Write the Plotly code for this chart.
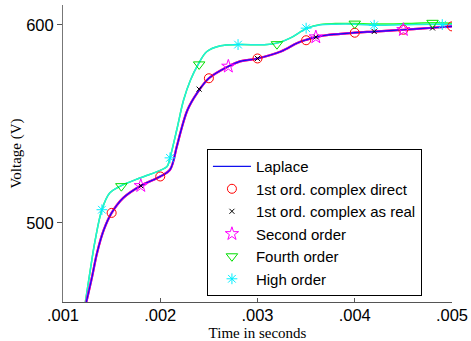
import plotly.graph_objects as go

# ---- data ----
lap_t = [0.00124, 0.0013, 0.00135, 0.00142, 0.0015, 0.00162, 0.0018, 0.002, 0.0021,
         0.00217, 0.00221, 0.00228, 0.00238, 0.0025, 0.0027, 0.00282, 0.003, 0.00324,
         0.00341, 0.0035, 0.0036, 0.00375, 0.0040, 0.0042, 0.0045, 0.0048, 0.005]
lap_v = [460, 473, 484.8, 496.5, 505, 512.6, 518.7, 523.4, 526.8,
         538.5, 546, 557, 565.6, 573, 579, 581.5, 583, 586.5,
         590.8, 592.4, 593.8, 595, 596, 596.6, 597.5, 598.5, 599.2]

hi_t = [0.00123, 0.00128, 0.00133, 0.0014, 0.00148, 0.00159, 0.00179, 0.002, 0.00207,
        0.0021, 0.00217, 0.00224, 0.00231, 0.00239, 0.00248, 0.00262, 0.0028, 0.0031,
        0.00322, 0.00334, 0.00351, 0.00365, 0.0038, 0.004, 0.0042, 0.0045, 0.0048, 0.005]
hi_v = [460, 476, 491, 506.6, 515, 518.5, 522.6, 526.5, 528.4,
        532.8, 547, 562, 572, 580, 586.5, 589.4, 590, 590,
        591, 593.4, 598.3, 600, 600.3, 600.3, 599.8, 600, 600.3, 600.2]

fourth_t = hi_t
fourth_v = [460, 476, 491, 506.6, 515, 518.5, 522.6, 526.5, 528.4,
            532.8, 547, 562, 572, 580, 586.5, 589.4, 590, 590,
            591, 593.4, 598.3, 600.2, 600.6, 600.6, 600.4, 600.6, 601, 600.8]

c1_t = [0.0015, 0.002, 0.0025, 0.003, 0.0035, 0.004, 0.0045, 0.005]
c1_v = [505, 523.4, 573, 583, 592.2, 596, 597.5, 599.2]

x1_t = [0.0018, 0.0024, 0.003, 0.0036, 0.0042, 0.0048]
x1_v = [518.7, 567.5, 583, 593.8, 596.6, 598.4]

so_t = [0.0018, 0.0027, 0.0036, 0.0045]
so_v = [518.7, 579, 593.8, 597.5]

fo_t = [0.0016, 0.0024, 0.0032, 0.004, 0.0048]
fo_v = [518.5, 580, 590.2, 600.6, 601]

ho_t = [0.0014, 0.0021, 0.0028, 0.0035, 0.0042, 0.0049]
ho_v = [506.6, 532.8, 590, 598.3, 599.8, 600.1]

xtick_vals = [0.001, 0.002, 0.003, 0.004, 0.005]
xtick_text = [".001", ".002", ".003", ".004", ".005"]
ytick_vals = [500, 600]
ytick_text = ["500", "600"]

fig = go.Figure()

# background lines (no legend)
fig.add_trace(go.Scatter(x=fourth_t, y=fourth_v, mode="lines", line=dict(color="#22ff22", width=1.5, shape="spline"),
                         showlegend=False, hoverinfo="skip"))
fig.add_trace(go.Scatter(x=hi_t, y=hi_v, mode="lines", line=dict(color="#22eedd", width=1.5, shape="spline"),
                         showlegend=False, hoverinfo="skip"))
fig.add_trace(go.Scatter(x=lap_t, y=lap_v, mode="lines", line=dict(color="#ff2020", width=2.2, shape="spline"),
                         showlegend=False, hoverinfo="skip"))
fig.add_trace(go.Scatter(x=lap_t, y=lap_v, mode="lines", line=dict(color="#ee00ee", width=2.2, shape="spline"),
                         showlegend=False, hoverinfo="skip"))

# legend traces
fig.add_trace(go.Scatter(x=lap_t, y=lap_v, mode="lines", name="Laplace",
                         line=dict(color="#1010ee", width=1.2, shape="spline")))
fig.add_trace(go.Scatter(x=c1_t, y=c1_v, mode="markers", name="1st ord. complex direct",
                         marker=dict(symbol="circle-open", color="#ff0000", size=9, line=dict(width=1))))
fig.add_trace(go.Scatter(x=x1_t, y=x1_v, mode="markers", name="1st ord. complex as real",
                         marker=dict(symbol="x-thin-open", color="#000000", size=5, line=dict(width=1))))
fig.add_trace(go.Scatter(x=so_t, y=so_v, mode="markers", name="Second order",
                         marker=dict(symbol="star-open", color="#ff00ff", size=10, line=dict(width=1))))
fig.add_trace(go.Scatter(x=fo_t, y=fo_v, mode="markers", name="Fourth order",
                         marker=dict(symbol="triangle-down-open", color="#00dd00", size=10, line=dict(width=1))))
fig.add_trace(go.Scatter(x=ho_t, y=ho_v, mode="markers", name="High order",
                         marker=dict(symbol="asterisk-open", color="#00eeff", size=9, line=dict(width=1))))

fig.update_layout(
    width=471, height=341,
    margin=dict(l=63, r=19, t=5, b=39),
    paper_bgcolor="white", plot_bgcolor="white",
    font=dict(family="Liberation Sans, Arial", size=16.5, color="black"),
    legend=dict(x=0.37, y=0.515, xanchor="left", yanchor="top",
                bgcolor="white", bordercolor="black", borderwidth=1,
                font=dict(family="Liberation Sans, Arial", size=15),
                tracegroupgap=0, itemwidth=38,
                entrywidth=185, entrywidthmode="pixels"),
    xaxis=dict(range=[0.001, 0.005], tickvals=xtick_vals, ticktext=xtick_text, automargin=False,
               showgrid=False, zeroline=False, showline=True, linecolor="#555555", linewidth=1,
               ticks="inside", ticklen=4, tickcolor="#555555", ticklabelstandoff=-2,
               title=dict(text="Time in seconds", font=dict(family="Liberation Serif, Times New Roman", size=15),
                          standoff=14)),
    yaxis=dict(range=[460, 610], tickvals=ytick_vals, ticktext=ytick_text, automargin=False,
               showgrid=False, zeroline=False, showline=True, linecolor="#777777", linewidth=1,
               ticks="outside", ticklen=5, tickcolor="#555555",
               title=dict(text="Voltage (V)", font=dict(family="Liberation Serif, Times New Roman", size=15),
                          standoff=0)),
)

fig.write_html("out.html", config={"displayModeBar": False},
               post_script="document.body.style.margin='0';document.body.style.overflow='hidden';")
